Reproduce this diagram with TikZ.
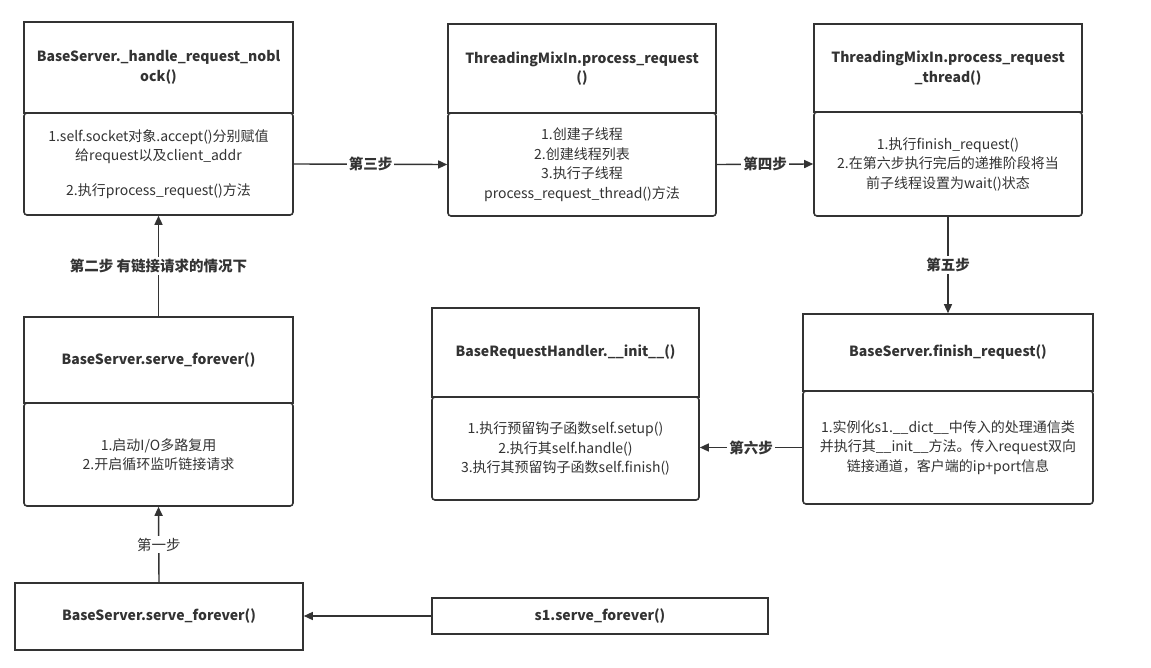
\documentclass[tikz,border=0pt]{standalone}
\usepackage{fontspec}
\setmainfont{Noto Sans CJK SC}
\usetikzlibrary{arrows.meta}
\definecolor{ln}{HTML}{333333}
\definecolor{tx}{HTML}{333333}
\tikzset{
  hdr/.style={draw=ln, line width=1.6pt, fill=white, align=center, font=\fontsize{14}{19.5}\selectfont\bfseries, text=tx, inner sep=0pt},
  bdy/.style={draw=ln, line width=1.6pt, fill=white, rounded corners=3pt, align=center, font=\fontsize{14}{19.5}\selectfont, text=tx, inner sep=0pt},
  arr/.style={draw=ln, line width=1.4pt, -{Triangle[length=9pt,width=8pt]}},
  lbl/.style={fill=white, text=tx, font=\fontsize{14.5}{17}\selectfont\bfseries, inner sep=2pt},
  lbln/.style={fill=white, text=tx, font=\fontsize{14.5}{17}\selectfont, inner sep=2pt}
}
\begin{document}
\begin{tikzpicture}[x=1pt,y=-1pt]
\useasboundingbox[fill=white] (0,0) rectangle (1151,668);
% Box 1
\node[hdr, minimum width=269pt, minimum height=91pt] (b1h) at (158.5,67.5) {BaseServer.\_handle\_request\_nobl\\ock()};
\node[bdy, minimum width=269pt, minimum height=102pt] (b1b) at (158.5,164) {1.self.socket对象.accept()分别赋值\\给request以及client\_addr\\[15pt]2.执行process\_request()方法};
% Box 2
\node[hdr, minimum width=268pt, minimum height=89pt] (b2h) at (582,68.5) {ThreadingMixIn.process\_request\\()};
\node[bdy, minimum width=268pt, minimum height=103pt] (b2b) at (582,164.5) {1.创建子线程\\2.创建线程列表\\3.执行子线程\\process\_request\_thread()方法};
% Box 3
\node[hdr, minimum width=268pt, minimum height=88pt] (b3h) at (948,68) {ThreadingMixIn.process\_request\\\_thread()};
\node[bdy, minimum width=268pt, minimum height=104pt] (b3b) at (948,164) {1.执行finish\_request()\\2.在第六步执行完后的递推阶段将当\\前子线程设置为wait()状态};
% Box 4
\node[hdr, minimum width=267pt, minimum height=89pt] (b4h) at (565.5,352.5) {BaseRequestHandler.\_\_init\_\_()};
\node[bdy, minimum width=267pt, minimum height=103pt] (b4b) at (565.5,448.5) {1.执行预留钩子函数self.setup()\\2.执行其self.handle()\\3.执行其预留钩子函数self.finish()};
% Box 5
\node[hdr, minimum width=290pt, minimum height=77pt] (b5h) at (948,352.5) {BaseServer.finish\_request()};
\node[bdy, minimum width=290pt, minimum height=113pt] (b5b) at (948,447.5) {1.实例化s1.\_\_dict\_\_中传入的处理通信类\\并执行其\_\_init\_\_方法。传入request双向\\链接通道，客户端的ip+port信息};
% Box 6
\node[hdr, minimum width=269pt, minimum height=86pt] (b6h) at (158.5,360) {BaseServer.serve\_forever()};
\node[bdy, minimum width=269pt, minimum height=103pt] (b6b) at (158.5,454.5) {1.启动I/O多路复用\\2.开启循环监听链接请求};
% Box 7
\node[hdr, minimum width=288pt, minimum height=67pt] (b7) at (159,616.5) {BaseServer.serve\_forever()};
% s1
\node[hdr, minimum width=336pt, minimum height=36pt] (s1) at (600,616) {s1.serve\_forever()};
% connectors
\draw[arr] (s1.west) -- (b7.east |- s1.west);
\draw[arr] (b7.north) -- node[lbln] {第一步} (b6b.south);
\draw[arr] (b6h.north) -- node[lbl] {第二步 有链接请求的情况下} (b1b.south);
\draw[arr] (b1b.east) -- node[lbl] {第三步} (b2b.west);
\draw[arr] (b2b.east) -- node[lbl] {第四步} (b3b.west);
\draw[arr] (b3b.south) -- node[lbl] {第五步} (b5h.north);
\draw[arr] (b5b.west) -- node[lbl] {第六步} (b4b.east |- b5b.west);
\end{tikzpicture}
\end{document}
